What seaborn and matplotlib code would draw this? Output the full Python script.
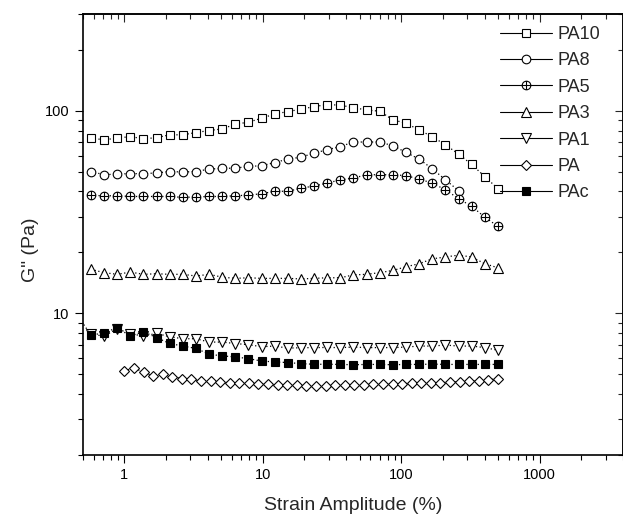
import numpy as np
import pandas as pd
import matplotlib
matplotlib.use("Agg")
import matplotlib.pyplot as plt
from matplotlib.lines import Line2D
from matplotlib.path import Path
import seaborn as sns

# strain amplitude (%) of the common sweep and of the PA sweep
strain = [0.459, 0.574, 0.714, 0.888, 1.105, 1.375, 1.71, 2.127, 2.646, 3.292,
          4.096, 5.095, 6.339, 7.886, 9.81, 12.21, 15.18, 18.89, 23.5, 29.23,
          36.37, 45.24, 56.28, 70.0, 87.1, 108.3, 134.8, 167.7, 208.6, 259.5,
          322.9, 401.7, 500.0]
strain_pa = [1.0, 1.173, 1.376, 1.613, 1.892, 2.218, 2.602, 3.051, 3.578, 4.196,
             4.92, 5.77, 6.767, 7.936, 9.307, 10.91, 12.8, 15.01, 17.61, 20.65,
             24.21, 28.4, 33.3, 39.05, 45.8, 53.7, 62.98, 73.86, 86.62, 101.6,
             119.1, 139.7, 163.8, 192.1, 225.3, 264.2, 309.9, 363.4, 426.2, 500.0]

# G'' (Pa)
pa10 = [73.4, 72, 73.4, 74.7, 72.8, 73.8, 76.2, 76.2, 78.2, 80, 81.5, 86, 88, 92,
        96.6, 99.2, 102, 105, 107.5, 106.7, 103.8, 101, 99.7, 90.3, 87, 80.5,
        74.6, 68, 61.3, 54.4, 47.4, 41.3]
pa8 = [50.2, 48.4, 48.8, 49, 49, 49.4, 50.2, 49.9, 50.2, 51.6, 52, 52.2, 53.2,
       53.6, 55.6, 57.8, 59.1, 61.9, 64.3, 66.7, 70.2, 70.2, 70.2, 67.3, 62.4,
       57.8, 51.8, 45.7, 40.4]
pa5 = [38.3, 38.1, 38.1, 37.8, 37.8, 37.8, 37.8, 37.4, 37.6, 37.8, 37.8, 38.1,
       38.4, 39, 40.1, 40.1, 41.5, 42.6, 44, 45.7, 46.6, 48.4, 48.4, 48.4, 47.9,
       46.1, 44, 40.8, 36.9, 33.8, 29.9, 26.9]
pa3 = [16.5, 15.9, 15.6, 16.0, 15.6, 15.7, 15.6, 15.6, 15.3, 15.6, 15.1, 14.9,
       15.0, 14.9, 14.9, 14.9, 14.8, 14.9, 15.0, 15.0, 15.5, 15.6, 15.9, 16.3,
       17.0, 17.6, 18.6, 19.0, 19.4, 19.0, 17.6, 16.8]
pa1 = [7.9, 7.73, 8.4, 7.94, 7.73, 7.97, 7.67, 7.5, 7.5, 7.22, 7.22, 7.1, 7.01,
       6.85, 6.9, 6.74, 6.77, 6.78, 6.79, 6.78, 6.82, 6.78, 6.78, 6.78, 6.82,
       6.9, 6.9, 6.98, 6.9, 6.9, 6.78, 6.58]
pa = [5.20, 5.40, 5.11, 4.91, 5.01, 4.87, 4.77, 4.73, 4.64, 4.64, 4.59, 4.55,
      4.52, 4.52, 4.47, 4.47, 4.43, 4.43, 4.43, 4.38, 4.38, 4.40, 4.41, 4.43,
      4.43, 4.45, 4.47, 4.47, 4.48, 4.50, 4.52, 4.52, 4.55, 4.55, 4.59, 4.60,
      4.64, 4.66, 4.70, 4.77]
pac = [9.8, 7.8, 8.03, 8.5, 7.73, 8.13, 7.59, 7.11, 6.9, 6.72, 6.29, 6.17, 6.1,
       5.98, 5.82, 5.76, 5.72, 5.65, 5.61, 5.61, 5.6, 5.58, 5.6, 5.6, 5.58, 5.6,
       5.6, 5.62, 5.6, 5.6, 5.6, 5.6, 5.6]

# circle with a cross inside (PA5)
circle_plus = Path.make_compound_path(
    Path.unit_circle(),
    Path([[-1, 0], [1, 0]]),
    Path([[0, -1], [0, 1]]),
)

# name, x, y, marker, face colour, marker size
series = [
    ("PA10", strain[1:], pa10, "s", "white", 5.6),
    ("PA8", strain[1:30], pa8, "o", "white", 6.2),
    ("PA5", strain[1:], pa5, circle_plus, "white", 6.2),
    ("PA3", strain[1:], pa3, "^", "white", 6.8),
    ("PA1", strain[1:], pa1, "v", "white", 6.8),
    ("PA", strain_pa, pa, "D", "white", 5.6),
    ("PAc", strain, pac, "s", "black", 5.6),
]

sns.set_style("ticks")
plt.rcParams["font.family"] = ["Liberation Sans", "DejaVu Sans"]

fig = plt.figure(figsize=(6.23, 5.21), dpi=100)
ax = fig.add_axes([0.1327, 0.1267, 0.8672, 0.8459])
ax.set_xscale("log")
ax.set_yscale("log")

handles = []
for name, x, y, mk, fc, ms in series:
    df = pd.DataFrame({"strain": x, "G2": y})
    sns.lineplot(data=df, x="strain", y="G2", ax=ax, color="black",
                 linestyle=(0, (1, 2)), linewidth=0.9, marker=mk, markersize=ms,
                 markerfacecolor=fc, markeredgecolor="black",
                 markeredgewidth=0.8, legend=False)
    handles.append(Line2D([], [], color="black", linestyle="-", linewidth=0.8,
                          marker=mk, markersize=ms, markerfacecolor=fc,
                          markeredgecolor="black", markeredgewidth=0.8,
                          label=name))

ax.set_xlim(0.5, 4000)
ax.set_ylim(2, 300)

ax.xaxis.set_major_formatter(matplotlib.ticker.FuncFormatter(lambda v, p: "%g" % v))
ax.yaxis.set_major_formatter(matplotlib.ticker.FuncFormatter(lambda v, p: "%g" % v))
ax.xaxis.set_minor_formatter(matplotlib.ticker.NullFormatter())
ax.yaxis.set_minor_formatter(matplotlib.ticker.NullFormatter())

for side in ["left", "bottom", "top", "right"]:
    ax.spines[side].set_linewidth(1.2)
    ax.spines[side].set_color("black")

ax.tick_params(which="both", direction="out", top=False, right=False,
               labelsize=10.5, colors="black", width=0.8, pad=4)
ax.tick_params(which="major", length=5.5)
ax.tick_params(which="minor", length=3.5)

# mirrored ticks on top and right, pointing inwards
secx = ax.secondary_xaxis("top")
secx.set_xscale("log")
secx.tick_params(which="both", direction="in", labeltop=False, width=0.8)
secx.tick_params(which="major", length=5.5)
secx.tick_params(which="minor", length=3.5)
secx.spines["top"].set_linewidth(1.2)
secy = ax.secondary_yaxis("right")
secy.tick_params(which="both", direction="in", labelright=False, width=0.8)
secy.tick_params(which="major", length=5.5)
secy.tick_params(which="minor", length=3.5)
secy.spines["right"].set_linewidth(1.2)

ax.set_xlabel("Strain Amplitude (%)", fontsize=14)
ax.set_ylabel('G" (Pa)', fontsize=14)
ax.xaxis.set_label_coords(0.5, -0.095)
ax.yaxis.set_label_coords(-0.08, 0.465)

fig.legend(handles=handles, loc="upper left", bbox_to_anchor=(500 / 623, 1 - 26 / 521),
           frameon=False, fontsize=13, borderpad=0, borderaxespad=0,
           handlelength=2.88, handletextpad=0.33, labelspacing=0.52)

fig.savefig("out.png", dpi=100, facecolor="white")
